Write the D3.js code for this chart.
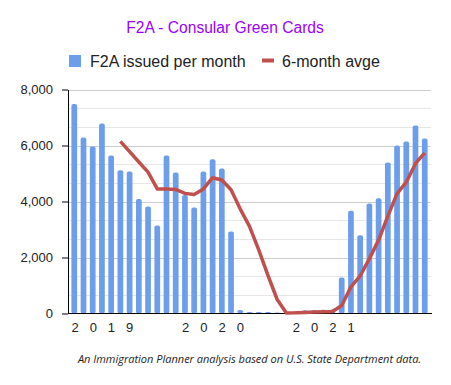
<!DOCTYPE html>
<html>
<head>
<meta charset="utf-8">
<script src="https://cdn.jsdelivr.net/npm/d3@7/dist/d3.min.js"></script>
<style>
  body { margin: 0; background: #fff; }
  svg text { font-family: "Liberation Sans", Arial, sans-serif; }
  .y-axis text { font-size: 13px; fill: #222; }
  .y-axis line, .y-axis path { stroke: #000; }
</style>
</head>
<body>
<svg id="chart" width="451" height="385"></svg>
<script>
// monthly categories, Jan 2019 - Mar 2022
var months = ["2019-01","2019-02","2019-03","2019-04","2019-05","2019-06","2019-07","2019-08","2019-09","2019-10","2019-11","2019-12",
              "2020-01","2020-02","2020-03","2020-04","2020-05","2020-06","2020-07","2020-08","2020-09","2020-10","2020-11","2020-12",
              "2021-01","2021-02","2021-03","2021-04","2021-05","2021-06","2021-07","2021-08","2021-09","2021-10","2021-11","2021-12",
              "2022-01","2022-02","2022-03"];
var issued = [7450, 6250, 5930, 6750, 5610, 5080, 5040, 4050, 3790, 3110, 5610, 5000,
              4200, 3750, 5040, 5470, 5140, 2890, 90, 15, 15, 15, 0, 0,
              40, 80, 90, 100, 110, 1250, 3630, 2760, 3890, 4080, 5360, 5960,
              6110, 6680, 6210];
var avg6 = [null, null, null, null, null, 6150, 5780, 5410, 5050, 4450, 4450, 4430,
            4290, 4250, 4450, 4850, 4770, 4420, 3730, 3110, 2270, 1360, 500, 20,
            25, 40, 50, 60, 70, 285, 950, 1340, 1960, 2620, 3480, 4280,
            4690, 5360, 5735];
var yearLabels = [{ at: "2019-01", text: "2019" }, { at: "2020-01", text: "2020" }, { at: "2021-01", text: "2021" }];
var yTicks = [0, 2000, 4000, 6000, 8000];
var seriesNames = ["F2A issued per month", "6-month avge"];

var barColor = "#6d9eeb", lineColor = "#c0504d";
var svg = d3.select("#chart");
var mLeft = 68, mRight = 431, mTop = 89.5, mBottom = 313.5;

var x = d3.scaleBand().domain(months).range([mLeft, mRight]).paddingInner(0.38).paddingOuter(0.37);
var y = d3.scaleLinear().domain([0, 8000]).range([mBottom, mTop]);

// title
svg.append("text").attr("x", 225).attr("y", 33).attr("text-anchor", "middle")
  .style("font-size", "15.6px").style("fill", "#9900ff").text("F2A - Consular Green Cards");

// legend
var lg = svg.append("g");
lg.append("rect").attr("x", 69).attr("y", 55).attr("width", 12).attr("height", 12).attr("fill", barColor);
lg.append("text").attr("x", 90).attr("y", 66.5).style("font-size", "16px").style("fill", "#222").text(seriesNames[0]);
lg.append("rect").attr("x", 262).attr("y", 58.5).attr("width", 12).attr("height", 4).attr("fill", lineColor);
lg.append("text").attr("x", 282).attr("y", 66.5).style("font-size", "16px").style("fill", "#222").text(seriesNames[1]);

// gridlines: major every 2000, minor in thirds
var grid = d3.range(1, 13).map(function(k) { return k * 2000 / 3; });
svg.append("g").selectAll("line").data(grid).join("line")
  .attr("x1", mLeft).attr("x2", mRight)
  .attr("y1", function(d) { return Math.round(y(d)) + 0.5; })
  .attr("y2", function(d) { return Math.round(y(d)) + 0.5; })
  .attr("stroke", function(d, i) { return (i + 1) % 3 == 0 ? "#ccc" : "#e6e6e6"; })
  .attr("stroke-width", 1);

// bars
svg.append("g").selectAll("rect").data(issued).join("rect")
  .attr("x", function(d, i) { return x(months[i]); })
  .attr("width", x.bandwidth())
  .attr("y", function(d) { return y(d) - 1; })
  .attr("height", function(d) { return mBottom - y(d) + 1; })
  .attr("rx", 2)
  .attr("fill", barColor);

// axes
var yAxis = d3.axisLeft(y).tickValues(yTicks).tickSize(6).tickPadding(9).tickSizeOuter(0).tickFormat(d3.format(","));
svg.append("g").attr("class", "y-axis").attr("transform", "translate(" + mLeft + ",0)").call(yAxis);
svg.append("line").attr("x1", mLeft).attr("x2", mRight + 1).attr("y1", mBottom).attr("y2", mBottom)
  .attr("stroke", "#000").attr("stroke-width", 1);

// 6 month average line
var line = d3.line()
  .defined(function(d) { return d != null; })
  .x(function(d, i) { return x(months[i]) + x.bandwidth() / 2; })
  .y(function(d) { return y(d); });
svg.append("path").datum(avg6).attr("d", line)
  .attr("fill", "none").attr("stroke", lineColor).attr("stroke-width", 3.5)
  .attr("stroke-linejoin", "round");

// year labels (spaced out)
svg.append("g").selectAll("text").data(yearLabels).join("text")
  .attr("x", function(d) { return x(d.at); })
  .attr("y", 331.5)
  .style("font-size", "13px").style("fill", "#222").style("letter-spacing", "11px")
  .text(function(d) { return d.text; });

// footnote
svg.append("text").attr("x", 249.5).attr("y", 363).attr("text-anchor", "middle")
  .style("font-family", "'Open Sans', sans-serif").style("font-style", "italic").style("font-size", "11px")
  .style("fill", "#222")
  .text("An Immigration Planner analysis based on U.S. State Department data.");
</script>
</body>
</html>
